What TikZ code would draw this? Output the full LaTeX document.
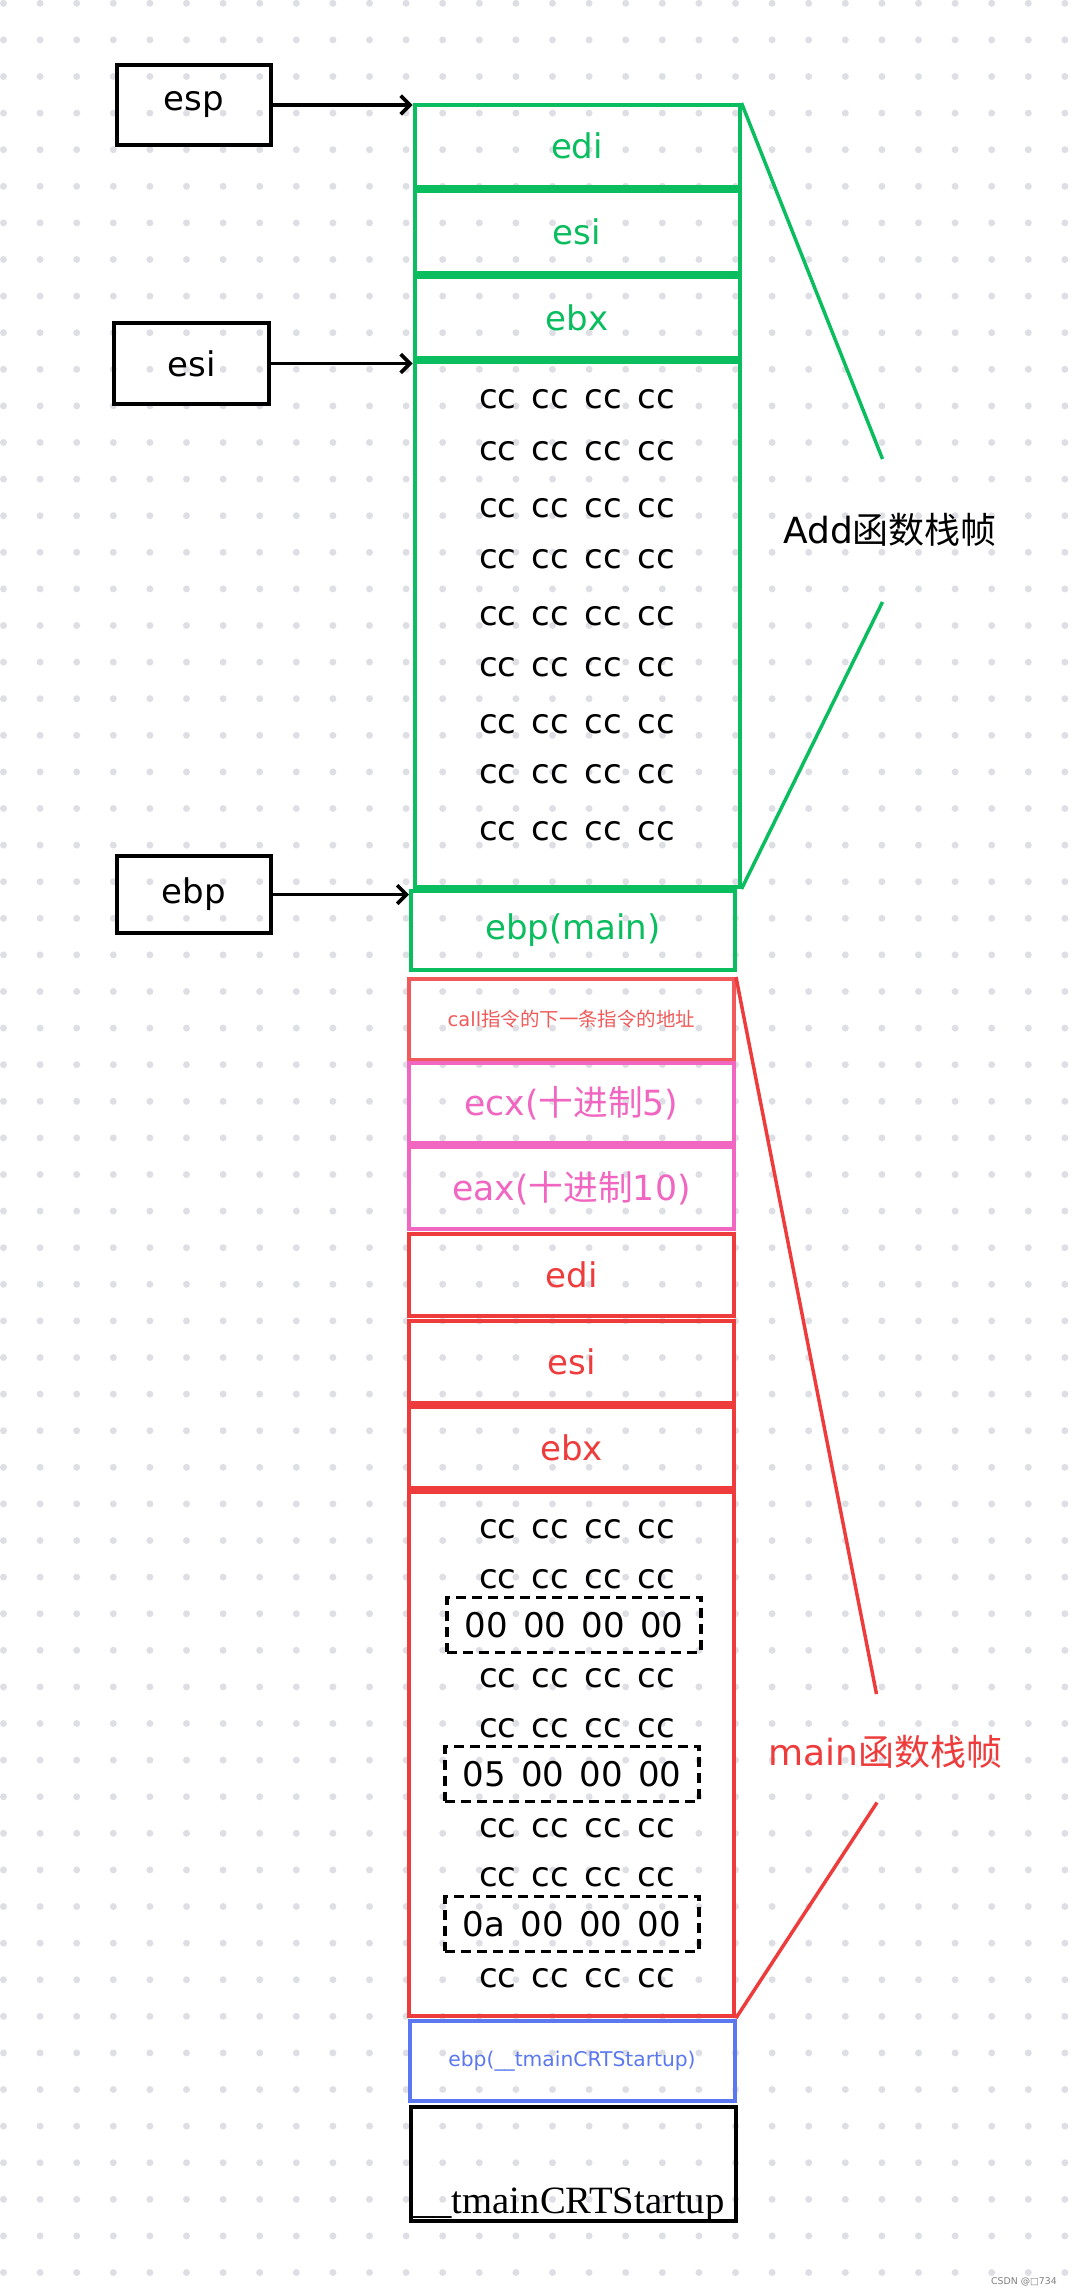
\documentclass[tikz,border=0pt]{standalone}
\usepackage{fontspec}
\setmainfont{DejaVu Sans}
\newfontfamily\cjk{Noto Sans CJK SC}
\newfontfamily\crtfont{Liberation Serif}
\usetikzlibrary{arrows.meta,positioning}
\definecolor{addgreen}{HTML}{0ABD5E}
\definecolor{mainred}{HTML}{EE3B3B}
\definecolor{callred}{HTML}{F05A5A}
\definecolor{argpink}{HTML}{F066C0}
\definecolor{crtblue}{HTML}{5B78F0}
\definecolor{dotgray}{HTML}{DEDFE4}
\newcommand{\bytes}[4]{#1\hspace{.45em}#2\hspace{.45em}#3\hspace{.45em}#4}
\newcommand{\ccrow}{\bytes{cc}{cc}{cc}{cc}}
\tikzset{cell/.style={draw,line width=3pt,inner sep=0pt,minimum width=243.75pt,font=\fontsize{25.5}{30}\selectfont},
 gcell/.style={cell,draw=addgreen,text=addgreen},
 rcell/.style={cell,draw=mainred,text=mainred},
 pcell/.style={cell,draw=argpink,text=argpink,font=\fontsize{26}{30}\selectfont},
 reg/.style={draw,line width=3pt,inner sep=0pt,minimum width=115.5pt,minimum height=60pt,font=\fontsize{25.5}{30}\selectfont},
 ccline/.style={inner sep=0pt,font=\fontsize{25.5}{30}\selectfont},
 hexbox/.style={draw,line width=2.5pt,dash pattern=on 7.5pt off 4.5pt,inner sep=0pt,minimum width=190.5pt,minimum height=41pt,font=\fontsize{25.5}{30}\selectfont},
 arrow/.style={-{Straight Barb[length=7pt,width=14pt]},line width=2.7pt},
 frameline/.style={line width=2.6pt}}

\begin{document}
\begin{tikzpicture}[x=0.75pt,y=-0.75pt]
\fill[white] (0,0) rectangle (1071,2294);
\useasboundingbox (0,0) rectangle (1071,2294);
\fill[dotgray] \foreach \i in {0,...,29}{\foreach \j in {0,...,62}{(3.5+36.6*\i,3.3+36.6*\j) circle[radius=2.6pt]}};

\node[gcell,minimum height=61.5pt] (gedi) at (577,146) {edi};
\node[gcell,minimum height=61.5pt] (gesi) at (577,232) {esi};
\node[gcell,minimum height=60.75pt] (gebx) at (577,317.5) {ebx};
\node[gcell,minimum height=393.75pt] (gcc) at (577,624.5) {};
\node[gcell,minimum width=243pt,minimum height=59.25pt] (gebp) at (573,930.5) {ebp(main)};

\foreach \y [count=\i] in {399,451,508,559,616,667,724,774,831}
  \node[ccline] (gcc\i) at (577,\y) {\ccrow};

\node[cell,draw=callred,text=callred,minimum height=60.75pt,font=\fontsize{14.6}{17}\selectfont] (rcall) at (571.5,1019.5)
{call{\cjk 指令的下一条指令的地址}};
\node[pcell,minimum height=60pt] (recx) at (571.5,1103) {ecx({\cjk 十进制}5)};
\node[pcell,minimum height=61.5pt] (reax) at (571.5,1188) {eax({\cjk 十进制}10)};
\node[rcell,minimum height=61.5pt] (redi) at (571.5,1275) {edi};
\node[rcell,minimum height=61.5pt] (resi) at (571.5,1362) {esi};
\node[rcell,minimum height=60.75pt] (rebx) at (571.5,1447.5) {ebx};
\node[rcell,minimum height=393pt] (rcc) at (571.5,1754) {};

\foreach \y [count=\i] in {1529.7,1578.8,1677.8,1728.2,1828.2,1877,1978}
  \node[ccline] (rcc\i) at (577,\y) {\ccrow};

\node[hexbox] (zero) at (574,1625) {\bytes{00}{00}{00}{00}};
\node[hexbox] (five) at (572,1774) {\bytes{05}{00}{00}{00}};
\node[hexbox] (ten) at (572,1924) {\bytes{0a}{00}{00}{00}};

\node[cell,draw=crtblue,text=crtblue,minimum height=60pt,font=\fontsize{15.2}{18}\selectfont] (bebp) at (572,2061)
{ebp(\_\_tmainCRTStartup)};
\node[cell,draw=black,minimum height=85.5pt] (crt) at (573.5,2164) {};
\node[anchor=base west,inner sep=0pt,font=\crtfont\fontsize{29}{34}\selectfont] (crtname) at (413,2213) {\_\_tmainCRTStartup};

\node[reg] (esp) at (194,105) {esp};
\node[reg,minimum width=116.25pt,minimum height=60.75pt] (esi) at (191.5,363.5) {esi};
\node[reg,minimum height=57.75pt] (ebp) at (194,894.5) {ebp};

\draw[arrow] (esp.east) -- (esp.east -| gedi.west);
\draw[arrow] (esi.east) -- (esi.east -| gcc.west);
\draw[arrow] (ebp.east) -- (ebp.east -| gebp.west);

\node[anchor=base west,inner sep=0pt,font=\fontsize{27}{32}\selectfont] (addlbl) at (783,543) {Add{\cjk 函数栈帧}};
\node[anchor=base west,inner sep=0pt,text=mainred,font=\fontsize{27}{32}\selectfont] (mainlbl) at (768,1765) {main{\cjk 函数栈帧}};

\coordinate (addtop) at (882.5,459);
\coordinate (addbot) at (882.5,602);
\coordinate (maintop) at (876.5,1694);
\coordinate (mainbot) at (877,1802.5);
\draw[frameline,addgreen] (gedi.north east) -- (addtop);
\draw[frameline,addgreen] (addbot) -- (gcc.south east);
\draw[frameline,mainred] (rcall.north east) -- (maintop);
\draw[frameline,mainred] (mainbot) -- (rcc.south east);

\node[anchor=east,inner sep=0pt,text=gray,font=\fontsize{7}{8}\selectfont] (wm) at (1057,2282) {CSDN @□734};
\end{tikzpicture}
\end{document}
